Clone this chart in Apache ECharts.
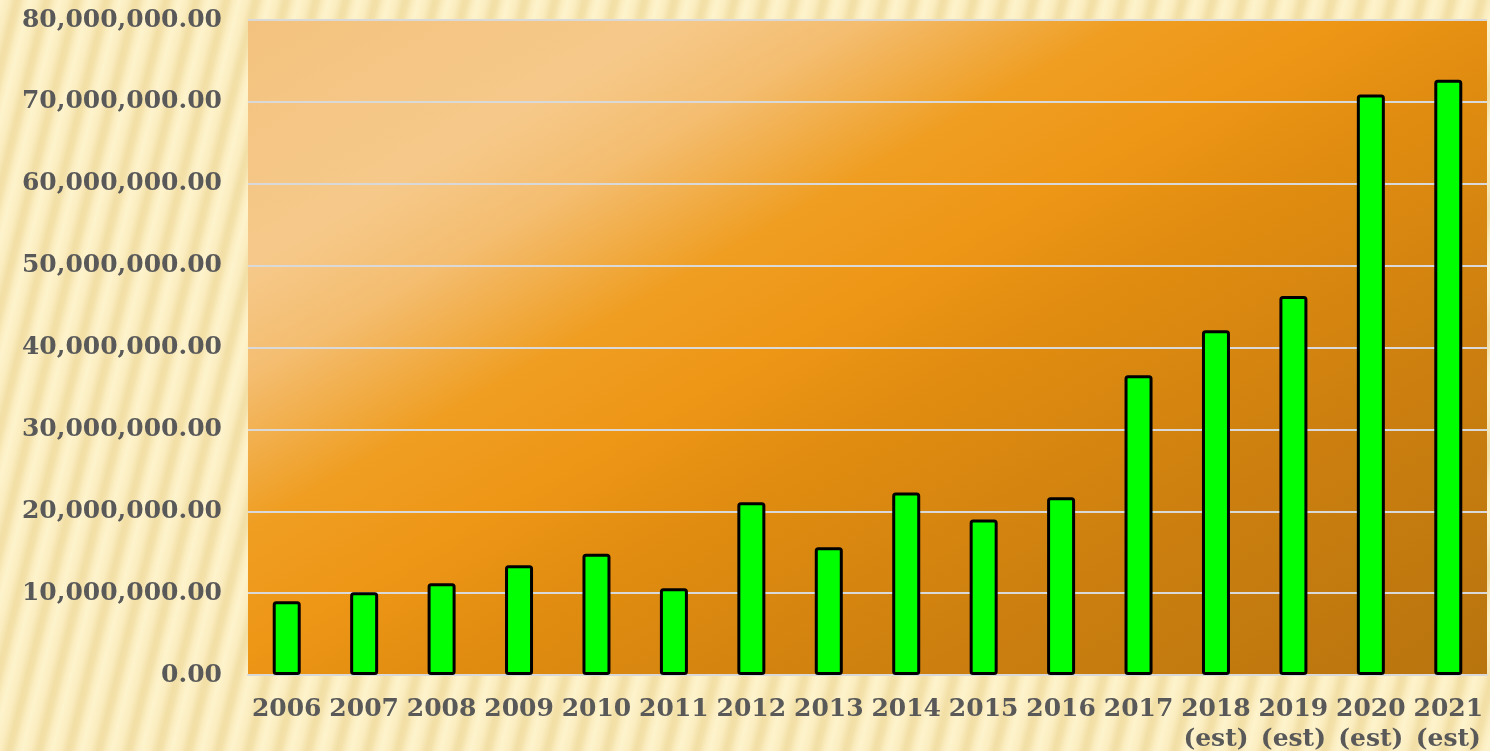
<!DOCTYPE html>
<html>
<head>
<meta charset="utf-8">
<script src="https://cdn.jsdelivr.net/npm/echarts@6/dist/echarts.min.js"></script>
<style>
html,body{margin:0;padding:0;width:1490px;height:751px;overflow:hidden;}
body{
  background-color:#FCEFC4;
  background-image:repeating-linear-gradient(104deg,
    #FDF3CC 0px, #FBEDC0 8px, #F2DFA6 15px, #F3E1A9 19px, #FBEDC0 24px, #FDF3CC 29px);
}
#chart{width:1490px;height:751px;}
</style>
</head>
<body>
<div id="chart"></div>
<script>
const categories = ['2006','2007','2008','2009','2010','2011','2012','2013','2014','2015','2016','2017','2018\n(est)','2019\n(est)','2020\n(est)','2021\n(est)'];
const values = [9000000, 10100000, 11200000, 13400000, 14800000, 10600000, 21100000, 15600000, 22300000, 19000000, 21700000, 36600000, 42100000, 46300000, 70900000, 72700000];
const yMin = 0, yMax = 80000000, yInterval = 10000000;

const chart = echarts.init(document.getElementById('chart'));
const fmt = v => v.toLocaleString('en-US',{minimumFractionDigits:2,maximumFractionDigits:2});
const L = 1187;
const plotBg = new echarts.graphic.LinearGradient(248, 20, 248 + 0.5 * L, 20 + 0.866 * L, [
  {offset:0,color:'#F3C27E'},
  {offset:0.18,color:'#F6C98A'},
  {offset:0.26,color:'#F4BD70'},
  {offset:0.37,color:'#EF9E22'},
  {offset:0.46,color:'#EE9616'},
  {offset:0.56,color:'#E08C10'},
  {offset:0.76,color:'#CC7F0F'},
  {offset:1,color:'#B8740E'}
], true);
chart.setOption({
  animation:false,
  grid:{left:248,right:3,top:20,bottom:76,show:true,borderWidth:0,containLabel:false,outerBoundsMode:'none',
    backgroundColor:plotBg},
  xAxis:{type:'category',data:categories,
    axisLine:{show:true,lineStyle:{color:'#D9D9D9',width:2}},
    axisTick:{show:false},
    axisLabel:{interval:0,color:'#595959',fontFamily:'DejaVu Serif',fontWeight:'bold',fontSize:25,margin:19,lineHeight:30}
  },
  yAxis:{type:'value',min:yMin,max:yMax,interval:yInterval,
    axisLine:{show:false},axisTick:{show:false},
    splitLine:{lineStyle:{color:'#D9D9D9',width:2}},
    axisLabel:{formatter:fmt,color:'#595959',fontFamily:'DejaVu Serif',fontWeight:'bold',fontSize:25,margin:26}
  },
  series:[{type:'bar',data:values,barWidth:28,
    itemStyle:{color:'#00FF00',borderColor:'#000000',borderWidth:3,borderRadius:2}}]
});
</script>
</body>
</html>
